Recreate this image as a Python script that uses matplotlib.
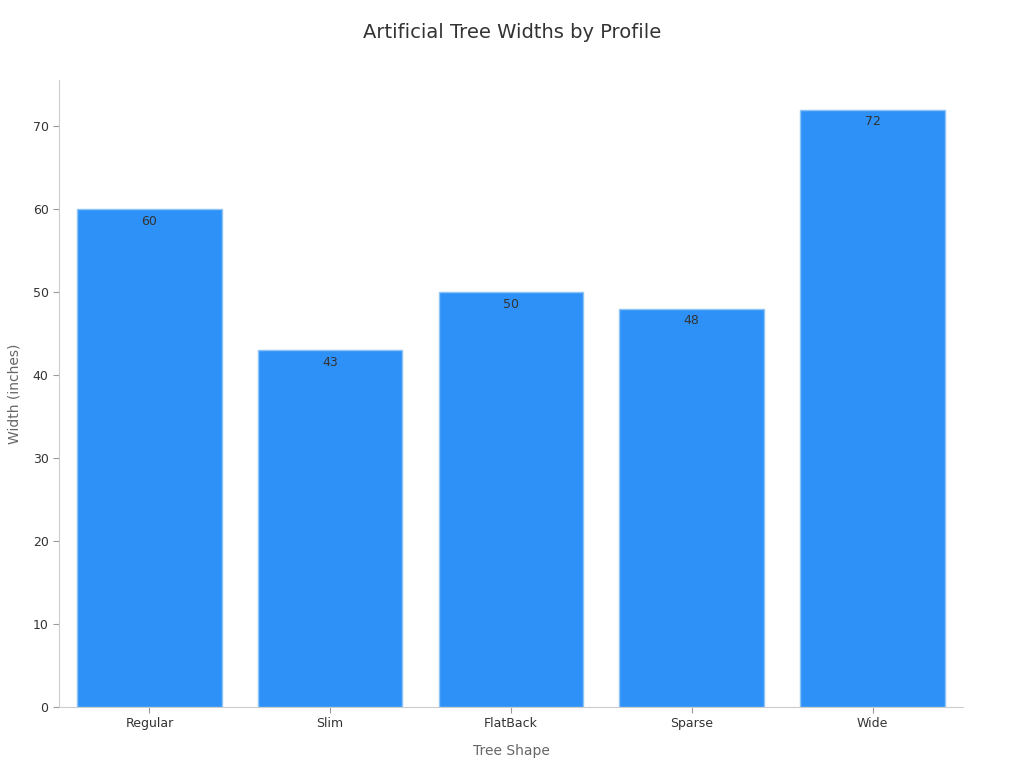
import matplotlib
matplotlib.use('Agg')
import matplotlib.pyplot as plt
import numpy as np

# Data
shapes = ['Regular', 'Slim', 'FlatBack', 'Sparse', 'Wide']
widths = [60, 43, 50, 48, 72]

x = np.arange(len(shapes))

fig = plt.figure(figsize=(10.24, 7.68), dpi=100)
ax = fig.add_axes([0.0576, 0.0794, 0.8828, 0.8166])

bars = ax.bar(x, widths, 0.8, color='#2e91f8', edgecolor='#8cc4f5', linewidth=1)

for rect, v in zip(bars, widths):
    ax.annotate(str(v), xy=(rect.get_x() + rect.get_width() / 2, rect.get_height()),
                xytext=(0, -4), textcoords='offset points',
                ha='center', va='top', fontsize=9, color='#333333')

ax.set_xlim(-0.5, len(shapes) - 0.5)
ax.set_ylim(0, 75.6)
ax.set_xticks(x)
ax.set_xticklabels(shapes)
ax.set_yticks(np.arange(0, 71, 10))
ax.tick_params(labelsize=9, colors='#333333', length=4)
ax.tick_params(color='#999999')

for s in ['top', 'right']:
    ax.spines[s].set_visible(False)
for s in ['left', 'bottom']:
    ax.spines[s].set_color('#cccccc')

ax.set_xlabel('Tree Shape', fontsize=10, color='#666666', labelpad=10)
ax.set_ylabel('Width (inches)', fontsize=10, color='#666666', labelpad=8)
fig.suptitle('Artificial Tree Widths by Profile', fontsize=14, color='#333333', y=0.97)

plt.savefig('out.png')
